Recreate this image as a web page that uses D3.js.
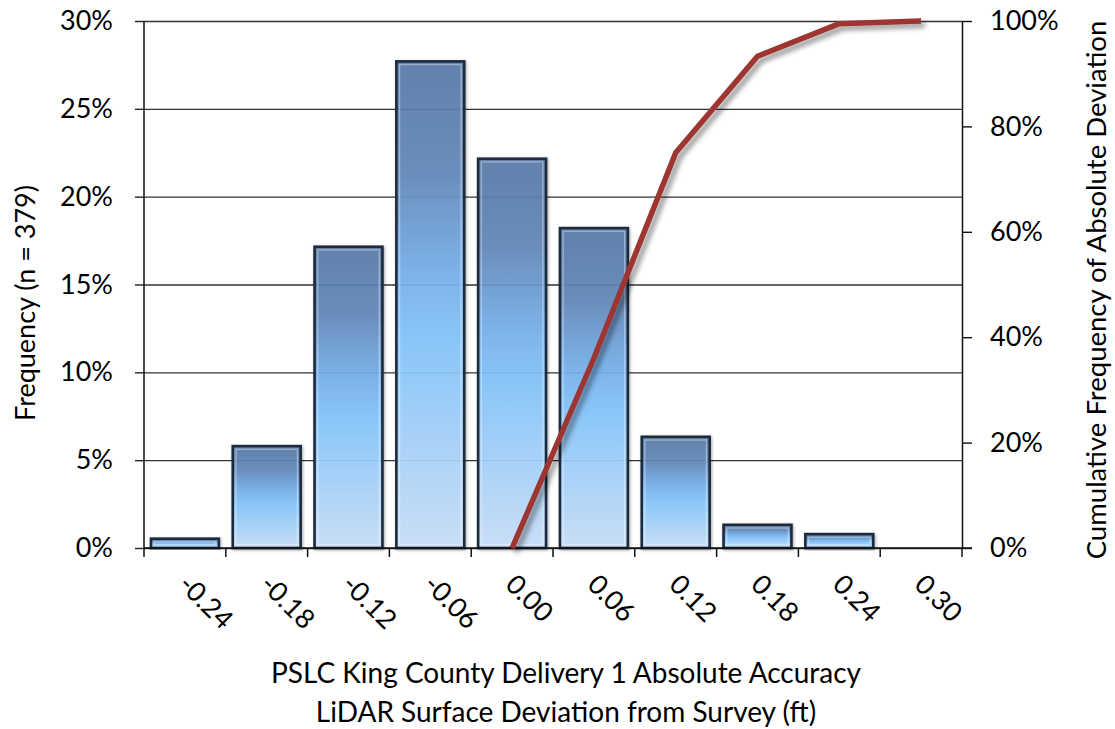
<!DOCTYPE html>
<html>
<head>
<meta charset="utf-8">
<script src="https://cdn.jsdelivr.net/npm/d3@7"></script>
<style>
  html, body { margin: 0; padding: 0; background: #ffffff; }
  svg { display: block; }
  text { font-family: Lato, "Open Sans", "Liberation Sans", sans-serif; fill: #000; }
</style>
</head>
<body>
<svg id="chart" width="1115" height="729"></svg>
<script>
// Histogram bins (ft) of LiDAR surface deviation from survey
const categories = ["-0.24", "-0.18", "-0.12", "-0.06", "0.00", "0.06", "0.12", "0.18", "0.24", "0.30"];
// Share of checkpoints in each bin (n = 379)
const frequency = [0.0053, 0.0580, 0.1715, 0.2770, 0.2216, 0.1821, 0.0633, 0.0132, 0.0079, 0];
// Cumulative frequency of absolute deviation (null where not plotted)
const cumulative = [null, null, null, null, 0, 0.36, 0.75, 0.933, 0.995, 1.0];
// Axis ticks
const leftTicks = [0, 0.05, 0.10, 0.15, 0.20, 0.25, 0.30];
const rightTicks = [0, 0.2, 0.4, 0.6, 0.8, 1.0];

const svg = d3.select("#chart");
const plot = { left: 144, right: 962, top: 21, bottom: 548 };

const x = d3.scaleBand().domain(categories)
  .range([plot.left, plot.right]).paddingInner(0.17).paddingOuter(0.085);
const yL = d3.scaleLinear().domain([0, 0.30]).range([plot.bottom, plot.top]);
const yR = d3.scaleLinear().domain([0, 1]).range([plot.bottom, plot.top]);

const defs = svg.append("defs");
const grad = defs.append("linearGradient").attr("id", "barFill")
  .attr("x1", 0).attr("y1", 0).attr("x2", 0).attr("y2", 1);
[["0%", "#587aa8"], ["22%", "#6187b8"], ["45%", "#77b2ee"], ["58%", "#84c5fc"], ["80%", "#a8d3fb"], ["100%", "#c9dff8"]]
  .forEach(([o, c]) => grad.append("stop").attr("offset", o).attr("stop-color", c));

const barShadow = defs.append("filter").attr("id", "barShadow")
  .attr("x", "-20%").attr("y", "-20%").attr("width", "140%").attr("height", "140%");
barShadow.append("feDropShadow").attr("dx", 1).attr("dy", 1)
  .attr("stdDeviation", 1.6).attr("flood-color", "#000").attr("flood-opacity", 0.35);

const lineShadow = defs.append("filter").attr("id", "lineShadow")
  .attr("x", "-20%").attr("y", "-20%").attr("width", "140%").attr("height", "140%");
lineShadow.append("feDropShadow").attr("dx", 4).attr("dy", 4)
  .attr("stdDeviation", 2.6).attr("flood-color", "#000").attr("flood-opacity", 0.4);

// Gridlines (left axis)
const yAxisL = d3.axisLeft(yL).tickValues(leftTicks).tickFormat(d3.format(".0%"))
  .tickSize(-(plot.right - plot.left)).tickSizeOuter(0).tickPadding(31);
const gL = svg.append("g").attr("transform", `translate(${plot.left},0)`).call(yAxisL);
gL.select(".domain").remove();
gL.selectAll(".tick line").attr("stroke", "#333").attr("stroke-width", 1.4);
// short outward tick marks
gL.selectAll(".tick").append("line").attr("x1", -9).attr("x2", 0)
  .attr("stroke", "#222").attr("stroke-width", 1.4);
gL.selectAll(".tick text").attr("font-size", 27).attr("fill", "#000");

// Bars
const barData = categories.map((c, i) => ({ c, v: frequency[i] })).filter(d => d.v > 0);
const bars = svg.append("g");
bars.selectAll("rect.bar").data(barData)
  .join("rect").attr("class", "bar")
  .attr("x", d => x(d.c)).attr("width", x.bandwidth())
  .attr("y", d => yL(d.v)).attr("height", d => yL(0) - yL(d.v))
  .attr("fill", "url(#barFill)").attr("fill-opacity", 0.9)
  .attr("stroke", "#1b2a3c").attr("stroke-width", 2.6)
  .attr("filter", "url(#barShadow)");
bars.selectAll("rect.bevel").data(barData)
  .join("rect").attr("class", "bevel")
  .attr("x", d => x(d.c) + 3.2).attr("width", x.bandwidth() - 6.4)
  .attr("y", d => yL(d.v) + 3.2).attr("height", d => Math.max(0, yL(0) - yL(d.v) - 6.4))
  .attr("fill", "none").attr("stroke", "#ffffff").attr("stroke-opacity", 0.35)
  .attr("stroke-width", 1.4);

// X axis
const xAxis = d3.axisBottom(x).tickSize(0).tickFormat(() => "");
const gX = svg.append("g").attr("transform", `translate(0,${plot.bottom})`).call(xAxis);
gX.select(".domain").attr("d", `M${plot.left},0H${plot.right + 10}`)
  .attr("stroke", "#111").attr("stroke-width", 1.5);
const step = x.step();
const boundaries = d3.range(categories.length + 1).map(i => plot.left + i * step);
gX.selectAll("line.bound").data(boundaries).join("line").attr("class", "bound")
  .attr("x1", d => d).attr("x2", d => d).attr("y1", 0).attr("y2", 9)
  .attr("stroke", "#111").attr("stroke-width", 1.5);
gX.selectAll("text.cat").data(categories).join("text").attr("class", "cat")
  .attr("transform", d => `translate(${x(d) + x.bandwidth() / 2 - 8},${38}) rotate(45)`)
  .attr("text-anchor", "start").attr("font-size", 27).text(d => d);

// Left axis line
svg.append("line").attr("x1", plot.left).attr("x2", plot.left)
  .attr("y1", plot.top).attr("y2", plot.bottom).attr("stroke", "#111").attr("stroke-width", 1.5);

// Right axis
const yAxisR = d3.axisRight(yR).tickValues(rightTicks).tickFormat(d3.format(".0%"))
  .tickSize(10).tickSizeOuter(0).tickPadding(18);
const gR = svg.append("g").attr("transform", `translate(${plot.right},0)`).call(yAxisR);
gR.select(".domain").attr("stroke", "#111").attr("stroke-width", 1.5);
gR.selectAll(".tick line").attr("stroke", "#111").attr("stroke-width", 1.4);
gR.selectAll(".tick text").attr("font-size", 27).attr("fill", "#000");

// Cumulative line
const pts = categories.map((c, i) => ({ c, v: cumulative[i] })).filter(d => d.v !== null);
const line = d3.line().x(d => x(d.c) + x.bandwidth() / 2).y(d => yR(d.v));
svg.append("path").datum(pts).attr("d", line)
  .attr("fill", "none").attr("stroke", "#9d3632").attr("stroke-width", 5.5)
  .attr("stroke-linejoin", "round").attr("filter", "url(#lineShadow)");

// Axis titles
svg.append("text").attr("transform", "translate(35,303) rotate(-90)")
  .attr("text-anchor", "middle").attr("font-size", 27).text("Frequency (n = 379)");
svg.append("text").attr("transform", "translate(1106,290) rotate(-90)")
  .attr("text-anchor", "middle").attr("font-size", 27.5).text("Cumulative Frequency of Absolute Deviation");
svg.append("text").attr("x", 566).attr("y", 683)
  .attr("text-anchor", "middle").attr("font-size", 28).text("PSLC King County Delivery  1 Absolute Accuracy");
svg.append("text").attr("x", 566).attr("y", 722)
  .attr("text-anchor", "middle").attr("font-size", 28).text("LiDAR Surface Deviation from Survey (ft)");
</script>
</body>
</html>
